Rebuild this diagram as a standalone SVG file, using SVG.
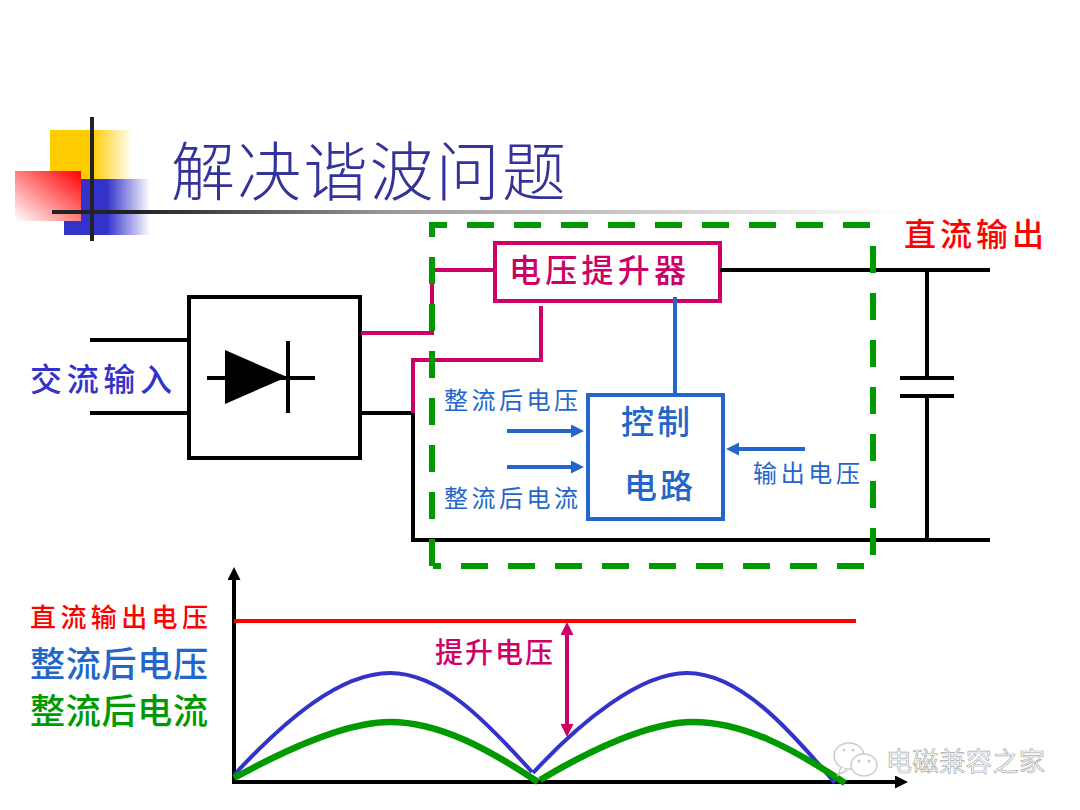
<svg xmlns="http://www.w3.org/2000/svg" width="1080" height="810" viewBox="0 0 1080 810">
<style>
text{font-family:"Noto Sans CJK SC","Liberation Serif",serif}
.k{fill:none;stroke:#000;stroke-width:4}
.m{fill:none;stroke:#cc0066;stroke-width:4}
.b{fill:none;stroke:#2266cc;stroke-width:4}
.g{fill:none;stroke:#009900;stroke-width:6;stroke-dasharray:27 20}
.cb{fill:none;stroke:#3333cc;stroke-width:4}
.cg{fill:none;stroke:#009900;stroke-width:6.5}
.bt{fill:#2266cc;font-size:24px}
.mt{fill:#cc0066;font-weight:500}
.rt{fill:#ff0000;font-weight:500}
.bub{fill:#fff;stroke:#ccc;stroke-width:1.5}
.dot{fill:#ccc}
</style>
<defs>
<linearGradient id="gy"><stop offset="0.5" stop-color="#ffcc00"/><stop offset="1" stop-color="#ffcc00" stop-opacity="0"/></linearGradient>
<linearGradient id="gb"><stop offset="0.5" stop-color="#3333cc"/><stop offset="1" stop-color="#3333cc" stop-opacity="0"/></linearGradient>
<linearGradient id="gr" x1="1" y1="0" x2="0" y2="1"><stop offset="0" stop-color="#ff0000"/><stop offset="1" stop-color="#ffffff"/></linearGradient>
<linearGradient id="gl"><stop offset="0.1" stop-color="#222"/><stop offset="0.4" stop-color="#222" stop-opacity="0.45"/><stop offset="1" stop-color="#222" stop-opacity="0"/></linearGradient>
<marker id="ab" markerUnits="userSpaceOnUse" markerWidth="13" markerHeight="13" refX="5" refY="6.5" orient="auto"><path d="M0 0L13 6.5L0 13z" fill="#2266cc"/></marker>
<marker id="ak" markerUnits="userSpaceOnUse" markerWidth="13" markerHeight="13" refX="5" refY="6.5" orient="auto"><path d="M0 0L13 6.5L0 13z" fill="#000"/></marker>
<marker id="am" markerUnits="userSpaceOnUse" markerWidth="13" markerHeight="13" refX="5" refY="6.5" orient="auto-start-reverse"><path d="M0 0L13 6.5L0 13z" fill="#cc0066"/></marker>
</defs>
<rect width="1080" height="810" fill="#fff"/>
<g id="logo">
<rect x="50" y="130" width="83" height="49" fill="url(#gy)"/>
<rect x="64" y="179" width="86" height="56" fill="url(#gb)"/>
<rect x="15" y="171" width="66" height="50" fill="url(#gr)"/>
<rect x="52" y="210" width="860" height="4" fill="url(#gl)"/>
<rect x="90" y="117" width="4" height="124" fill="#222"/>
</g>
<text id="title" x="171" y="195" font-size="64" fill="#333399" font-weight="300" textLength="395">解决谐波问题</text>
<g id="rectifier">
<rect x="189" y="297" width="171" height="161" fill="#fff" stroke="#000" stroke-width="4"/>
<path d="M207 378H315" stroke="#000" stroke-width="4"/>
<path d="M288 341V413" stroke="#000" stroke-width="4"/>
<path d="M225 350L287 377L225 404z" fill="#000"/>
</g>
<g id="booster">
<rect x="495" y="243" width="225" height="58" fill="#fff" stroke="#cc0066" stroke-width="4"/>
<text class="mt" x="509" y="282" font-size="32" textLength="177">电压提升器</text>
</g>
<g id="control">
<rect x="588" y="395" width="135" height="124" fill="#fff" stroke="#2266cc" stroke-width="4"/>
<text x="621" y="434" font-size="33" font-weight="500" fill="#2266cc" textLength="69">控制</text>
<text x="624" y="498" font-size="33" font-weight="500" fill="#2266cc" textLength="69">电路</text>
</g>
<g id="connectors">
<path class="k" d="M90 340H188M90 413H188M361 413H413V540H990M720 270H990M927 270V376M927 397V540M900 378H954M900 396H954"/>
<path class="m" d="M361 333H432V270H495M541 306V360H413V413"/>
<path class="b" d="M675 297V394"/>
<path class="b" d="M507 431H576" marker-end="url(#ab)"/>
<path class="b" d="M507 467H576" marker-end="url(#ab)"/>
<path class="b" d="M805 449H734" marker-end="url(#ab)"/>
<path class="g" d="M432 566V225H873"/>
<path class="g" stroke-dashoffset="27" d="M873 226V566H433"/>
</g>
<text class="bt" x="444" y="409" textLength="134">整流后电压</text>
<text class="bt" x="444" y="507" textLength="134">整流后电流</text>
<text class="bt" x="753" y="482" textLength="107">输出电压</text>
<text x="904" y="246" font-size="32" class="rt" textLength="140">直流输出</text>
<text x="30" y="391" font-size="32" font-weight="500" fill="#3333cc" textLength="142">交流输入</text>
<g id="chart">
<path d="M234 784V575" class="k" marker-end="url(#ak)"/>
<path d="M232 782H900" class="k" marker-end="url(#ak)"/>
<path d="M234 621H856" fill="none" stroke="#ff0000" stroke-width="4"/>
<path class="cb" d="M234 775C285 720 340 673 390 673C440 673 485 720 532 772"/>
<path class="cb" d="M533 773C580 722 640 673 687 673C740 673 790 730 835 783"/>
<path class="cg" d="M234 778C285 750 345 722 390 722C440 722 490 750 538 782"/>
<path class="cg" d="M540 780C590 750 650 722 693 722C745 722 795 750 845 783"/>
<path d="M567 630V729" class="m" marker-start="url(#am)" marker-end="url(#am)"/>
<text x="30" y="627" font-size="26" class="rt" textLength="178">直流输出电压</text>
<text x="30" y="677" font-size="35" font-weight="500" fill="#2266cc" textLength="178">整流后电压</text>
<text x="30" y="724" font-size="35" font-weight="500" fill="#009900" textLength="178">整流后电流</text>
<text x="435" y="663" font-size="28" class="mt" textLength="118">提升电压</text>
</g>
<g id="watermark">
<ellipse class="bub" cx="849" cy="756" rx="15" ry="13"/>
<path class="bub" d="M841 767L838 775L847 770"/>
<ellipse class="bub" cx="864" cy="765" rx="13" ry="11"/>
<circle class="dot" cx="844" cy="750" r="1.5"/><circle class="dot" cx="853" cy="750" r="1.5"/>
<circle class="dot" cx="859" cy="761" r="1.5"/><circle class="dot" cx="869" cy="761" r="1.5"/>
<text x="886" y="771" font-size="26" fill="#fff" stroke="#aaa" stroke-width="0.7" textLength="159">电磁兼容之家</text>
</g>
</svg>
